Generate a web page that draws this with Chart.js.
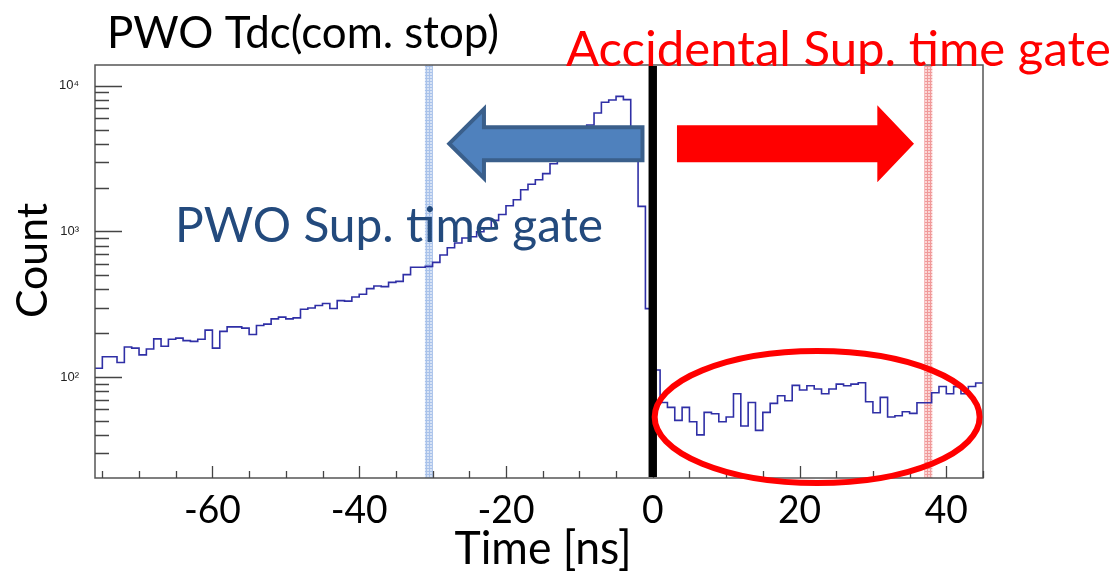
<!DOCTYPE html>
<html>
<head>
<meta charset="utf-8">
<title>PWO Tdc(com. stop)</title>
<script src="https://cdn.jsdelivr.net/npm/chart.js@4.4.1/dist/chart.umd.min.js"></script>
<style>
  html, body { margin: 0; padding: 0; background: #fff; }
  #wrap { width: 1117px; height: 574px; }
</style>
</head>
<body>
<div id="wrap"><canvas id="tdcChart" width="1117" height="574"></canvas></div>
<script>
// Histogram: 1 ns bins, first bin starts at -76 ns
const binStart = -76;
const binWidth = 1;
const counts = [
    115, 138, 138, 126, 161, 158, 142, 156, 183, 163,
    182, 185, 178, 176, 182, 210, 158, 206, 221, 221,
    217, 196, 226, 231, 251, 258, 251, 255, 292, 298,
    310, 320, 296, 335, 332, 355, 370, 405, 422, 418,
    447, 454, 505, 567, 567, 575, 613, 688, 773, 832,
    900, 920, 995, 1060, 1190, 1307, 1500, 1648, 1930, 2108,
    2260, 2490, 2910, 3300, 3800, 4400, 5000, 5380, 6500, 7690,
    7980, 8450, 8020, 4000, 1485, 295, 112, 67, 62, 50.5,
    62, 49.4, 40.1, 57.3, 56.1, 49.4, 53.2, 76.9, 46.2, 67,
    43.1, 57.3, 66, 74.5, 68.8, 87.7, 81.5, 87.2, 82.8, 76.9,
    82.8, 89.5, 87.2, 89.5, 91.4, 67.8, 56.9, 72.6, 53.2, 54.3,
    57.8, 56.4, 66.7, 66.7, 78.1, 86.3, 76.9, 86, 76.9, 86.3,
    91
];

// Axis ranges and ticks
const xMin = -76, xMax = 45;
const yMin = 20.3, yMax = 13870;
const xTicks = [-75, -70, -65, -60, -55, -50, -45, -40, -35, -30, -25, -20, -15, -10, -5,
                0, 5, 10, 15, 20, 25, 30, 35, 40, 45];
const xTickLabels = [-60, -40, -20, 0, 20, 40];
const yTicks = [30, 40, 50, 60, 70, 80, 90,
                100, 200, 300, 400, 500, 600, 700, 800, 900,
                1000, 2000, 3000, 4000, 5000, 6000, 7000, 8000, 9000, 10000];
const yTickLabels = { 100: '10\u00b2', 1000: '10\u00b3', 10000: '10\u2074' };

// Annotations (data coordinates)
const splitTime = 0;
const pwoGate = -30.5;
const accGate = 37.55;
const blueArrow = { tip: -28.0, headBase: -23.0, tail: -1.4, level: 4000 };
const redArrow = { tail: 3.3, headBase: 30.6, tip: 35.6, level: 4000 };
const accEllipse = { x: 22.4, level: 53.2, halfWidth: 22.55 };

const FONT = "Lato, 'Open Sans', sans-serif";
const histColor = '#2f2fa6';

// font size that gives a text a given width
const measureCtx = document.createElement('canvas').getContext('2d');
function fitSize(text, width) {
    measureCtx.font = '100px ' + FONT;
    return 100 * width / measureCtx.measureText(text).width;
}

const tickSize = fitSize('-60', 57);

// step points at bin edges, plus the closing edge
const histPoints = counts.map((c, i) => ({ x: binStart + i * binWidth, y: c }));
histPoints.push({ x: binStart + counts.length * binWidth, y: counts[counts.length - 1] });

function makePattern(ctx, bg, dot) {
    const c = document.createElement('canvas');
    c.width = 3; c.height = 3;
    const g = c.getContext('2d');
    g.fillStyle = bg;
    g.fillRect(0, 0, 3, 3);
    g.fillStyle = dot;
    g.fillRect(0, 0, 3, 1);
    g.fillRect(0, 0, 1, 3);
    return ctx.createPattern(c, 'repeat');
}

// text with a given width, optionally stretched vertically
function drawText(ctx, text, x, y, width, color, align, stretch) {
    ctx.save();
    ctx.font = fitSize(text, width) + 'px ' + FONT;
    ctx.fillStyle = color;
    ctx.textAlign = align || 'left';
    ctx.textBaseline = 'alphabetic';
    ctx.translate(x, y);
    ctx.scale(1, stretch || 1);
    ctx.fillText(text, 0, 0);
    ctx.restore();
}

function drawArrow(ctx, pts, fill, stroke, lw) {
    ctx.beginPath();
    ctx.moveTo(pts[0][0], pts[0][1]);
    for (let i = 1; i < pts.length; i++) ctx.lineTo(pts[i][0], pts[i][1]);
    ctx.closePath();
    ctx.fillStyle = fill;
    ctx.fill();
    if (stroke) {
        ctx.lineJoin = 'miter';
        ctx.lineWidth = lw;
        ctx.strokeStyle = stroke;
        ctx.stroke();
    }
}

const overlayPlugin = {
    id: 'overlay',
    beforeDatasetsDraw(chart) {
        const { ctx, chartArea: a, scales: { x } } = chart;
        ctx.save();
        // gate bands
        const bands = [[pwoGate, makePattern(ctx, '#d6e2f5', '#a9c2ea')],
                       [accGate, makePattern(ctx, '#fbd6d6', '#f09a9a')]];
        bands.forEach(([t, pat]) => {
            const px = x.getPixelForValue(t);
            ctx.fillStyle = pat;
            ctx.fillRect(px - 4, a.top, 8, a.bottom - a.top);
        });
        ctx.restore();
    },
    afterDatasetsDraw(chart) {
        const { ctx, chartArea: a, scales: { x, y } } = chart;
        ctx.save();

        // frame
        ctx.strokeStyle = '#555';
        ctx.lineWidth = 1.5;
        ctx.strokeRect(a.left, a.top, a.right - a.left, a.bottom - a.top);

        // inner ticks
        ctx.strokeStyle = '#444';
        ctx.lineWidth = 1.3;
        ctx.beginPath();
        y.ticks.forEach(t => {
            const py = Math.round(y.getPixelForValue(t.value)) + 0.5;
            const len = yTickLabels[t.value] ? 27 : 14;
            ctx.moveTo(a.left, py);
            ctx.lineTo(a.left + len, py);
        });
        x.ticks.forEach(t => {
            const px = Math.round(x.getPixelForValue(t.value)) + 0.5;
            const len = xTickLabels.includes(t.value) ? 12 : 7;
            ctx.moveTo(px, a.bottom);
            ctx.lineTo(px, a.bottom - len);
        });
        ctx.stroke();

        // x tick labels
        x.ticks.forEach(t => {
            if (!xTickLabels.includes(t.value)) return;
            ctx.save();
            ctx.font = tickSize + 'px ' + FONT;
            ctx.fillStyle = '#000';
            ctx.textAlign = 'center';
            ctx.textBaseline = 'alphabetic';
            ctx.translate(x.getPixelForValue(t.value), 523);
            ctx.scale(1, 1.04);
            ctx.fillText(String(t.value), 0, 0);
            ctx.restore();
        });

        // x axis title
        drawText(ctx, 'Time [ns]', (a.left + a.right) / 2 + 4, 564, 177, '#000', 'center', 1.06);

        // split line at t = 0
        const p0 = x.getPixelForValue(splitTime);
        ctx.fillStyle = '#000';
        ctx.fillRect(p0 - 4.2, a.top + 1, 8.4, a.bottom - a.top - 2);

        // blue arrow (pointing left)
        {
            const cy = y.getPixelForValue(blueArrow.level);
            const tip = x.getPixelForValue(blueArrow.tip);
            const hb = x.getPixelForValue(blueArrow.headBase);
            const tail = x.getPixelForValue(blueArrow.tail);
            const sh = 16.5, hh = 34.5;
            drawArrow(ctx, [[tail, cy - sh], [hb, cy - sh], [hb, cy - hh], [tip + 2, cy],
                            [hb, cy + hh], [hb, cy + sh], [tail, cy + sh]],
                      '#4f81bd', '#3a5f8b', 4);
        }
        // red arrow (pointing right)
        {
            const cy = y.getPixelForValue(redArrow.level);
            const tip = x.getPixelForValue(redArrow.tip);
            const hb = x.getPixelForValue(redArrow.headBase);
            const tail = x.getPixelForValue(redArrow.tail);
            const sh = 18.5, hh = 38.5;
            drawArrow(ctx, [[tail, cy - sh], [hb, cy - sh], [hb, cy - hh], [tip, cy],
                            [hb, cy + hh], [hb, cy + sh], [tail, cy + sh]],
                      '#ff0000', null, 0);
        }

        // ellipse around the accidental region
        {
            const cx = x.getPixelForValue(accEllipse.x);
            const cy = y.getPixelForValue(accEllipse.level);
            const rx = x.getPixelForValue(accEllipse.x + accEllipse.halfWidth) - cx;
            ctx.beginPath();
            ctx.ellipse(cx, cy, rx - 3, 66, 0, 0, Math.PI * 2);
            ctx.strokeStyle = '#ff0000';
            ctx.lineWidth = 6;
            ctx.stroke();
        }

        // texts
        drawText(ctx, 'PWO Tdc(com. stop)', 107, 48, 392, '#000');
        drawText(ctx, 'Accidental Sup. time gate', 566, 66, 545, '#ff0000');
        drawText(ctx, 'PWO Sup. time gate', 175, 242, 428, '#234a7d');

        // y axis title
        ctx.save();
        ctx.translate(47, 260.5);
        ctx.rotate(-Math.PI / 2);
        ctx.font = fitSize('Count', 115) + 'px ' + FONT;
        ctx.fillStyle = '#000';
        ctx.textAlign = 'center';
        ctx.textBaseline = 'alphabetic';
        ctx.fillText('Count', 0, 0);
        ctx.restore();

        ctx.restore();
    }
};

const chartCtx = document.getElementById('tdcChart').getContext('2d');
const tdcChart = new Chart(chartCtx, {
    type: 'line',
    data: {
        datasets: [{
            label: 'PWO Tdc',
            data: histPoints,
            stepped: true,
            borderColor: histColor,
            borderWidth: 1.6,
            pointRadius: 0,
            fill: false
        }]
    },
    options: {
        responsive: false,
        animation: false,
        devicePixelRatio: 1,
        layout: { padding: { top: 65, right: 134, bottom: 0, left: 0 } },
        plugins: { legend: { display: false }, tooltip: { enabled: false }, title: { display: false } },
        scales: {
            x: {
                type: 'linear',
                min: xMin,
                max: xMax,
                grid: { display: false, drawTicks: false },
                border: { display: false },
                afterBuildTicks: s => { s.ticks = xTicks.map(v => ({ value: v })); },
                afterFit: s => { s.height = 96; },
                ticks: { display: false, autoSkip: false, maxRotation: 0 }
            },
            y: {
                type: 'logarithmic',
                min: yMin,
                max: yMax,
                grid: { display: false, drawTicks: false },
                border: { display: false },
                afterBuildTicks: s => { s.ticks = yTicks.map(v => ({ value: v })); },
                afterFit: s => { s.width = 95; },
                ticks: {
                    autoSkip: false,
                    padding: 16,
                    color: '#222',
                    font: { family: "'Liberation Sans', Arial, sans-serif", size: 13 },
                    callback: v => yTickLabels[v] || ''
                }
            }
        }
    },
    plugins: [overlayPlugin]
});
</script>
</body>
</html>
